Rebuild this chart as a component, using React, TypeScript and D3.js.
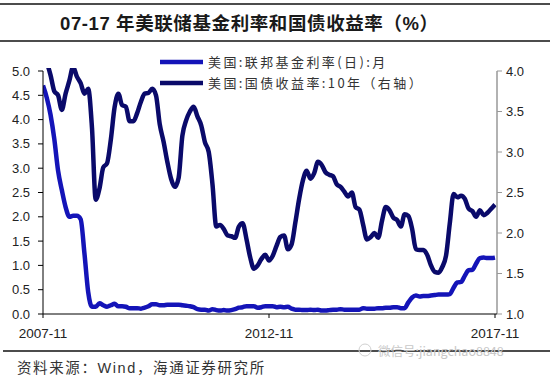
import React from "react";
import * as d3 from "d3";

const xTickLabels = ["2007-11", "2012-11", "2017-11"];
const xTickIndex = [0, 60, 120];
const leftTicks = [0, 0.5, 1, 1.5, 2, 2.5, 3, 3.5, 4, 4.5, 5];
const rightTicks = [1, 1.5, 2, 2.5, 3, 3.5, 4];

// Monthly, 2007-11 .. 2017-11
const fedFunds = [
  4.7, 4.45, 4.1, 3.6, 2.95, 2.55, 2.2, 2.0, 2.02, 2.02, 1.95, 1.25, 0.45, 0.15,
  0.15, 0.22, 0.18, 0.15, 0.18, 0.21, 0.16, 0.16, 0.15, 0.12, 0.12, 0.12,
  0.11, 0.13, 0.16, 0.2, 0.2, 0.18, 0.18, 0.19, 0.19, 0.19, 0.19, 0.18,
  0.17, 0.16, 0.14, 0.1, 0.09, 0.09, 0.07, 0.1, 0.08, 0.07, 0.08, 0.07,
  0.08, 0.1, 0.13, 0.14, 0.16, 0.16, 0.16, 0.13, 0.14, 0.16, 0.16, 0.16,
  0.14, 0.15, 0.14, 0.15, 0.11, 0.09, 0.09, 0.08, 0.08, 0.09, 0.08, 0.09,
  0.07, 0.07, 0.08, 0.09, 0.09, 0.1, 0.09, 0.09, 0.09, 0.09, 0.09, 0.12,
  0.11, 0.11, 0.11, 0.12, 0.12, 0.13, 0.13, 0.14, 0.14, 0.12, 0.12, 0.24,
  0.34, 0.38, 0.36, 0.37, 0.37, 0.38, 0.39, 0.4, 0.4, 0.4, 0.41, 0.54,
  0.65, 0.66, 0.79, 0.9, 0.91, 1.04, 1.15, 1.16, 1.15, 1.15, 1.16,
];

const treasury10y = [
  4.15, 4.1, 3.95, 3.75, 3.7, 3.52, 3.72, 3.88, 4.05, 3.93, 3.85, 3.72, 3.78,
  3.3, 2.41, 2.55, 2.81, 2.86, 3.15, 3.55, 3.72, 3.58, 3.56, 3.38, 3.38, 3.48,
  3.62, 3.72, 3.73, 3.78, 3.7, 3.34, 3.13, 2.88, 2.67, 2.57, 2.68, 3.2, 3.39,
  3.5, 3.56, 3.44, 3.33, 3.12, 3.0, 2.6, 2.08, 2.1, 2.05, 1.97, 1.96, 1.94,
  2.08, 2.12, 1.93, 1.7, 1.56, 1.6, 1.68, 1.73, 1.66, 1.72, 1.84, 1.95, 1.97,
  1.8, 1.86, 2.13, 2.42, 2.65, 2.77, 2.67, 2.74, 2.88, 2.84, 2.75, 2.72, 2.7,
  2.6, 2.57, 2.51, 2.45, 2.5, 2.32, 2.29, 2.1, 1.92, 1.95, 2.0, 1.94, 2.15,
  2.32, 2.28, 2.19, 2.16, 2.08, 2.23, 2.21, 2.05, 1.8, 1.79, 1.79, 1.73, 1.6,
  1.52, 1.51, 1.58, 1.72, 2.12, 2.48, 2.44, 2.46, 2.42, 2.3, 2.27, 2.2, 2.28,
  2.22, 2.25, 2.3, 2.35,
];

const legendLabels = ["美国:联邦基金利率(日):月", "美国:国债收益率:10年（右轴）"];

export default function App() {
  const W = 550, H = 378;
  const L = 43, R = 497, T = 71, B = 314;
  const x = d3.scaleLinear().domain([0, 120]).range([L, 495]);
  const yL = d3.scaleLinear().domain([0, 5]).range([B, T]);
  const yR = d3.scaleLinear().domain([1, 4]).range([B, T]);
  const fedLine = d3
    .line<number>()
    .x((_, i) => x(i))
    .y((d) => yL(d))
    .curve(d3.curveMonotoneX);
  const tLine = d3
    .line<number>()
    .x((_, i) => x(i))
    .y((d) => yR(d))
    .curve(d3.curveMonotoneX);
  const blue = "#1414b8";
  const navy = "#0a0a6a";
  const font = "'Liberation Sans', Arial, 'Noto Sans CJK SC', sans-serif";
  const cjk = "'Noto Sans CJK SC', sans-serif";

  return (
    <svg
      width={W}
      height={H}
      style={{ position: "absolute", left: 0, top: 0, background: "#fff" }}
    >
      <defs>
        <clipPath id="plotclip">
          <rect x={L} y={68} width={R - L} height={B - 68 + 4} />
        </clipPath>
      </defs>
      <rect width={W} height={H} fill="#fff" />
      {/* title */}
      <line x1={0} x2={W} y1={4} y2={4} stroke="#111" strokeWidth={1.5} />
      <line x1={0} x2={W} y1={41} y2={41} stroke="#111" strokeWidth={1.5} />
      <text
        x={60}
        y={30}
        fontFamily={font}
        fontWeight="bold"
        fontSize={18.5}
        letterSpacing={0.6}
        fill="#1a1a1a"
      >
        07-17 年美联储基金利率和国债收益率（%）
      </text>

      {/* lines */}
      <g clipPath="url(#plotclip)">
        <path d={fedLine(fedFunds) || ""} fill="none" stroke={blue} strokeWidth={4.5} strokeLinejoin="round" />
        <path d={tLine(treasury10y) || ""} fill="none" stroke={navy} strokeWidth={4.5} strokeLinejoin="round" />
      </g>

      {/* left axis */}
      <line x1={L} x2={L} y1={T} y2={B} stroke="#000" strokeWidth={1} />
      {leftTicks.map((t) => (
        <g key={"l" + t}>
          <line x1={L - 5} x2={L} y1={yL(t)} y2={yL(t)} stroke="#000" />
          <text
            x={L - 13}
            y={yL(t)}
            dy="0.35em"
            textAnchor="end"
            fontFamily={font}
            fontSize={13}
            fill="#222"
          >
            {t.toFixed(1)}
          </text>
        </g>
      ))}

      {/* right axis */}
      <line x1={R} x2={R} y1={T} y2={B} stroke="#999" strokeWidth={1.5} />
      {rightTicks.map((t) => (
        <g key={"r" + t}>
          <line x1={R} x2={R + 5} y1={yR(t)} y2={yR(t)} stroke="#999" />
          <text
            x={R + 9}
            y={yR(t)}
            dy="0.35em"
            textAnchor="start"
            fontFamily={font}
            fontSize={13}
            fill="#222"
          >
            {t.toFixed(1)}
          </text>
        </g>
      ))}

      {/* bottom axis */}
      <line x1={L} x2={R} y1={B} y2={B} stroke="#000" strokeWidth={1} />
      {xTickIndex.map((m, i) => (
        <g key={"x" + m}>
          <line x1={x(m)} x2={x(m)} y1={B} y2={B + 4} stroke="#000" />
          <text
            x={x(m)}
            y={338}
            textAnchor="middle"
            fontFamily={font}
            fontSize={13.5}
            fill="#222"
          >
            {xTickLabels[i]}
          </text>
        </g>
      ))}

      {/* legend */}
      {legendLabels.map((lab, i) => (
        <g key={lab}>
          <line
            x1={160}
            x2={203}
            y1={62 + i * 21}
            y2={62 + i * 21}
            stroke={i === 0 ? blue : navy}
            strokeWidth={4.5}
          />
          <text
            x={208}
            y={62 + i * 21}
            dy="0.35em"
            fontFamily={cjk}
            fontSize={13}
            letterSpacing={2.4}
            fill="#333"
          >
            {lab}
          </text>
        </g>
      ))}

      {/* footer */}
      <line x1={3} x2={W} y1={351} y2={351} stroke="#111" strokeWidth={1.5} />
      <text x={17} y={373} fontFamily={font} fontSize={14.5} letterSpacing={1.6} fill="#333">
        资料来源：Wind，海通证券研究所
      </text>
      <text
        x={378}
        y={352}
        dy="0.35em"
        fontFamily={cjk}
        fontSize={12.5}
        fill="#c8c8c8"
      >
        微信号:jiangchao8848
      </text>
      <circle cx={365} cy={350} r={6} fill="none" stroke="#d0d0d0" strokeWidth={1} />
    </svg>
  );
}
